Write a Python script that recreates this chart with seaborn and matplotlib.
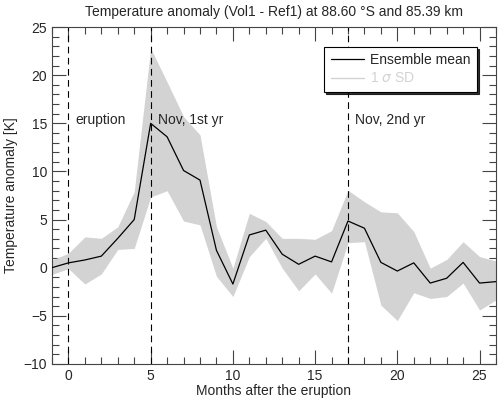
import numpy as np
import pandas as pd
import seaborn as sns
import matplotlib.pyplot as plt
from matplotlib.ticker import MultipleLocator

months = list(range(-1, 27))
mean = [0.0, 0.5, 0.8, 1.2, 3.05, 5.0, 15.0, 13.6, 10.1, 9.1, 1.8, -1.7, 3.4, 3.9,
        1.4, 0.35, 1.2, 0.6, 4.85, 4.1, 0.55, -0.35, 0.5, -1.6, -1.1, 0.55, -1.6, -1.45]
upper = [0.8, 1.5, 3.2, 3.05, 4.25, 7.9, 22.8, 19.3, 15.7, 13.8, 4.25, -0.05, 5.65, 4.8,
         3.05, 3.05, 2.95, 3.85, 8.05, 6.85, 5.8, 5.7, 3.75, -0.05, 0.85, 2.7, 1.15, 0.7]
lower = [-0.7, -0.1, -1.7, -0.65, 1.9, 2.0, 7.35, 8.0, 4.85, 4.45, -0.9, -3.0, 1.15, 3.05,
         -0.05, -2.4, -0.65, -2.65, 2.6, 2.7, -3.9, -5.5, -2.6, -3.2, -3.0, -1.6, -4.4, -3.35]
events = [0, 5, 17]
event_labels = ["eruption", "Nov, 1st yr", "Nov, 2nd yr"]

df = pd.DataFrame({"month": months, "mean": mean, "upper": upper, "lower": lower})

sns.set_style("ticks")
plt.rcParams['font.family'] = ['Liberation Sans', 'DejaVu Sans']
plt.rcParams['mathtext.fontset'] = 'dejavusans'

fig = plt.figure(figsize=(5, 3.99), dpi=100)
ax = fig.add_axes([0.104, 0.088, 0.888, 0.844])

ax.fill_between(df["month"], df["lower"], df["upper"], color="#d3d3d3", lw=0, zorder=1)
sns.lineplot(data=df, x="month", y="mean", color="black", lw=0.9, ax=ax, zorder=3,
             label="Ensemble mean")
ax.plot([], [], color="#d3d3d3", lw=1, label=r"1 $\sigma$ SD")

for x, lab in zip(events, event_labels):
    ax.axvline(x, color="black", lw=0.8, ls=(0, (6, 4)), zorder=2)
    ax.text(x + 0.45, 15.3, lab, fontsize=10, va="center", ha="left")

ax.set_xlim(-1, 26)
ax.set_ylim(-10, 25)
ax.xaxis.set_major_locator(MultipleLocator(5))
ax.xaxis.set_minor_locator(MultipleLocator(1))
ax.yaxis.set_major_locator(MultipleLocator(5))
ax.yaxis.set_minor_locator(MultipleLocator(1))
ax.tick_params(which="both", direction="in", top=True, right=True, labelsize=10,
               color="#444444", width=0.8)
ax.tick_params(which="major", length=10)
ax.tick_params(which="minor", length=5)
for s in ax.spines.values():
    s.set_color("#444444")
    s.set_linewidth(0.8)

ax.set_xlabel("Months after the eruption", fontsize=10, labelpad=1)
ax.set_ylabel("Temperature anomaly [K]", fontsize=10, labelpad=4)
ax.set_title("Temperature anomaly (Vol1 - Ref1) at 88.60 °S and 85.39 km", fontsize=10, pad=8)

leg = ax.legend(loc="upper right", bbox_to_anchor=(0.957, 0.941), borderaxespad=0,
                fontsize=10, frameon=True, fancybox=False,
                shadow={"ox": 1.5, "oy": -1.5, "color": "black", "alpha": 0.8},
                handlelength=2.4, borderpad=0.45, labelspacing=0.3, handletextpad=0.45)
leg.get_frame().set_edgecolor("black")
leg.get_frame().set_linewidth(0.8)
leg.get_frame().set_alpha(1)
leg.get_texts()[1].set_color("#d3d3d3")

fig.savefig("out.png", dpi=100)
